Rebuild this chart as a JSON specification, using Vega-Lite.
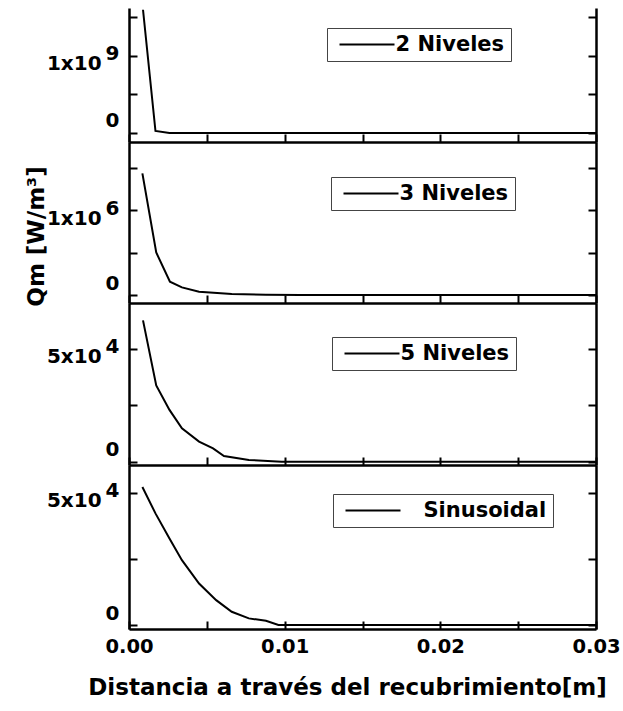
{
  "$schema": "https://vega.github.io/schema/vega-lite/v6.json",
  "padding": {"left": 24, "top": 8, "right": 20, "bottom": 8},
  "background": "white",
  "datasets": {
    "qm": [
      {"serie": "2 Niveles", "x": 0.0009, "q": 1600000000},
      {"serie": "2 Niveles", "x": 0.0017, "q": 26000000},
      {"serie": "2 Niveles", "x": 0.0026, "q": 0},
      {"serie": "2 Niveles", "x": 0.005, "q": 0},
      {"serie": "2 Niveles", "x": 0.01, "q": 0},
      {"serie": "2 Niveles", "x": 0.015, "q": 0},
      {"serie": "2 Niveles", "x": 0.02, "q": 0},
      {"serie": "2 Niveles", "x": 0.025, "q": 0},
      {"serie": "2 Niveles", "x": 0.03, "q": 0},
      {"serie": "3 Niveles", "x": 0.00086, "q": 1430000},
      {"serie": "3 Niveles", "x": 0.00175, "q": 500000},
      {"serie": "3 Niveles", "x": 0.00263, "q": 156000},
      {"serie": "3 Niveles", "x": 0.0034, "q": 90000},
      {"serie": "3 Niveles", "x": 0.0045, "q": 39000},
      {"serie": "3 Niveles", "x": 0.0066, "q": 12000},
      {"serie": "3 Niveles", "x": 0.0088, "q": 3000},
      {"serie": "3 Niveles", "x": 0.011, "q": 0},
      {"serie": "3 Niveles", "x": 0.015, "q": 0},
      {"serie": "3 Niveles", "x": 0.02, "q": 0},
      {"serie": "3 Niveles", "x": 0.025, "q": 0},
      {"serie": "3 Niveles", "x": 0.03, "q": 0},
      {"serie": "5 Niveles", "x": 0.0009, "q": 62700},
      {"serie": "5 Niveles", "x": 0.00175, "q": 33800},
      {"serie": "5 Niveles", "x": 0.0026, "q": 23000},
      {"serie": "5 Niveles", "x": 0.0034, "q": 14800},
      {"serie": "5 Niveles", "x": 0.0045, "q": 8900},
      {"serie": "5 Niveles", "x": 0.0054, "q": 5900},
      {"serie": "5 Niveles", "x": 0.0061, "q": 2500},
      {"serie": "5 Niveles", "x": 0.0077, "q": 800},
      {"serie": "5 Niveles", "x": 0.0098, "q": 0},
      {"serie": "5 Niveles", "x": 0.015, "q": 0},
      {"serie": "5 Niveles", "x": 0.02, "q": 0},
      {"serie": "5 Niveles", "x": 0.025, "q": 0},
      {"serie": "5 Niveles", "x": 0.03, "q": 0},
      {"serie": "Sinusoidal", "x": 0.00086, "q": 52200},
      {"serie": "Sinusoidal", "x": 0.0017, "q": 42200},
      {"serie": "Sinusoidal", "x": 0.0026, "q": 32700},
      {"serie": "Sinusoidal", "x": 0.0034, "q": 24500},
      {"serie": "Sinusoidal", "x": 0.0045, "q": 15700},
      {"serie": "Sinusoidal", "x": 0.0056, "q": 9400},
      {"serie": "Sinusoidal", "x": 0.0066, "q": 5000},
      {"serie": "Sinusoidal", "x": 0.0077, "q": 2500},
      {"serie": "Sinusoidal", "x": 0.0088, "q": 1600},
      {"serie": "Sinusoidal", "x": 0.0096, "q": 0},
      {"serie": "Sinusoidal", "x": 0.015, "q": 0},
      {"serie": "Sinusoidal", "x": 0.02, "q": 0},
      {"serie": "Sinusoidal", "x": 0.025, "q": 0},
      {"serie": "Sinusoidal", "x": 0.03, "q": 0}
    ]
  },
  "data": {"name": "qm"},
  "spacing": 0,
  "bounds": "flush",
  "resolve": {"scale": {"color": "independent", "y": "independent"}, "legend": {"color": "independent"}},
  "vconcat": [
    {
      "width": 467,
      "height": 134,
      "transform": [{"filter": "datum.serie == '2 Niveles'"}],
      "layer": [
        {
          "mark": {"type": "line", "strokeWidth": 2, "clip": true},
          "encoding": {
            "x": {"field": "x", "type": "quantitative", "scale": {"domain": [0, 0.03], "nice": false},
                  "axis": {"title": null, "labels": false, "values": [0, 0.005, 0.01, 0.015, 0.02, 0.025, 0.03]}},
            "y": {"field": "q", "type": "quantitative", "scale": {"domain": [-117000000, 1623000000], "nice": false, "zero": false},
                  "axis": {"orient": "left", "title": null, "values": [0, 500000000, 1000000000, 1500000000],
                           "labelExpr": "datum.value == 1e9 ? ['9', '1x10\u00a0\u00a0\u2009\u200b'] : datum.value == 0 ? '0' : ''"}},
            "color": {"field": "serie", "type": "nominal", "scale": {"range": ["black"]},
                      "legend": {"legendX": 198, "legendY": 20}}
          }
        },
        {
          "mark": {"type": "rule", "strokeOpacity": 0},
          "encoding": {
            "y": {"field": "q", "type": "quantitative",
                  "axis": {"orient": "right", "title": null, "labels": false, "values": [0, 500000000, 1000000000, 1500000000]}}
          }
        }
      ]
    },
    {
      "width": 467,
      "height": 161,
      "transform": [{"filter": "datum.serie == '3 Niveles'"}],
      "layer": [
        {
          "mark": {"type": "line", "strokeWidth": 2, "clip": true},
          "encoding": {
            "x": {"field": "x", "type": "quantitative", "scale": {"domain": [0, 0.03], "nice": false},
                  "axis": {"title": null, "labels": false, "values": [0, 0.005, 0.01, 0.015, 0.02, 0.025, 0.03]}},
            "y": {"field": "q", "type": "quantitative", "scale": {"domain": [-94000, 1800000], "nice": false, "zero": false},
                  "axis": {"orient": "left", "title": "Qm [W/m³]", "titleX": -93, "titleY": 94, "titleBaseline": "middle",
                           "values": [0, 500000, 1000000, 1500000],
                           "labelExpr": "datum.value == 1e6 ? ['6', '1x10\u00a0\u00a0\u2009\u200b'] : datum.value == 0 ? '0' : ''"}},
            "color": {"field": "serie", "type": "nominal", "scale": {"range": ["black"]},
                      "legend": {"legendX": 202, "legendY": 35}}
          }
        },
        {
          "mark": {"type": "rule", "strokeOpacity": 0},
          "encoding": {
            "y": {"field": "q", "type": "quantitative",
                  "axis": {"orient": "right", "title": null, "labels": false, "values": [0, 500000, 1000000, 1500000]}}
          }
        }
      ]
    },
    {
      "width": 467,
      "height": 162,
      "transform": [{"filter": "datum.serie == '5 Niveles'"}],
      "layer": [
        {
          "mark": {"type": "line", "strokeWidth": 2, "clip": true},
          "encoding": {
            "x": {"field": "x", "type": "quantitative", "scale": {"domain": [0, 0.03], "nice": false},
                  "axis": {"title": null, "labels": false, "values": [0, 0.005, 0.01, 0.015, 0.02, 0.025, 0.03]}},
            "y": {"field": "q", "type": "quantitative", "scale": {"domain": [-1460, 70400], "nice": false, "zero": false},
                  "axis": {"orient": "left", "title": null, "values": [0, 25000, 50000],
                           "labelExpr": "datum.value == 5e4 ? ['4', '5x10\u00a0\u00a0\u2009\u200b'] : datum.value == 0 ? '0' : ''"}},
            "color": {"field": "serie", "type": "nominal", "scale": {"range": ["black"]},
                      "legend": {"legendX": 203, "legendY": 34}}
          }
        },
        {
          "mark": {"type": "rule", "strokeOpacity": 0},
          "encoding": {
            "y": {"field": "q", "type": "quantitative",
                  "axis": {"orient": "right", "title": null, "labels": false, "values": [0, 25000, 50000]}}
          }
        }
      ]
    },
    {
      "width": 467,
      "height": 164,
      "transform": [{"filter": "datum.serie == 'Sinusoidal'"}],
      "layer": [
        {
          "mark": {"type": "line", "strokeWidth": 2, "clip": true},
          "encoding": {
            "x": {"field": "x", "type": "quantitative", "scale": {"domain": [0, 0.03], "nice": false},
                  "axis": {"title": "Distancia a través del recubrimiento[m]", "titleX": 218,
                           "values": [0, 0.005, 0.01, 0.015, 0.02, 0.025, 0.03],
                           "labelExpr": "round(datum.value * 200) % 2 == 0 ? format(datum.value, '.2f') : ''"}},
            "y": {"field": "q", "type": "quantitative", "scale": {"domain": [-1510, 60500], "nice": false, "zero": false},
                  "axis": {"orient": "left", "title": null, "values": [0, 25000, 50000],
                           "labelExpr": "datum.value == 5e4 ? ['4', '5x10\u00a0\u00a0\u2009\u200b'] : datum.value == 0 ? '0' : ''"}},
            "color": {"field": "serie", "type": "nominal", "scale": {"range": ["black"]},
                      "legend": {"legendX": 204, "legendY": 29, "labelExpr": "'\u200b\u00a0\u00a0\u00a0' + datum.label"}}
          }
        },
        {
          "mark": {"type": "rule", "strokeOpacity": 0},
          "encoding": {
            "y": {"field": "q", "type": "quantitative",
                  "axis": {"orient": "right", "title": null, "labels": false, "values": [0, 25000, 50000]}}
          }
        }
      ]
    }
  ],
  "config": {
    "view": {"stroke": null},
    "font": "DejaVu Sans",
    "axis": {
      "grid": false,
      "domainColor": "black",
      "domainWidth": 2.5,
      "tickColor": "black",
      "tickWidth": 2,
      "tickSize": -8,
      "labelFont": "DejaVu Sans",
      "labelFontWeight": "bold",
      "labelFontSize": 20,
      "labelColor": "black",
      "labelFlush": false,
      "labelOverlap": false,
      "titleFont": "DejaVu Sans",
      "titleFontWeight": "bold",
      "titleFontSize": 23,
      "titleColor": "black"
    },
    "axisX": {"labelPadding": 16, "labelFontSize": 19.5, "titlePadding": 21},
    "axisY": {
      "titleFontSize": 23,
      "labelPadding": 18,
      "labelLineHeight": 10,
      "labelOffset": {"condition": {"test": "datum.value == 0", "value": -12}, "value": -2},
      "labelFontSize": {"condition": {"test": "datum.value == 1.5e9", "value": 1}, "value": 20}
    },
    "legend": {
      "orient": "none",
      "title": null,
      "symbolType": "M-5.5,0H5.5",
      "symbolSize": 100,
      "symbolStrokeWidth": 2,
      "symbolOffset": 23.5,
      "labelOffset": 18,
      "padding": 6,
      "strokeColor": "#444",
      "labelFont": "DejaVu Sans",
      "labelFontWeight": "bold",
      "labelFontSize": 21,
      "labelColor": "black"
    }
  }
}
